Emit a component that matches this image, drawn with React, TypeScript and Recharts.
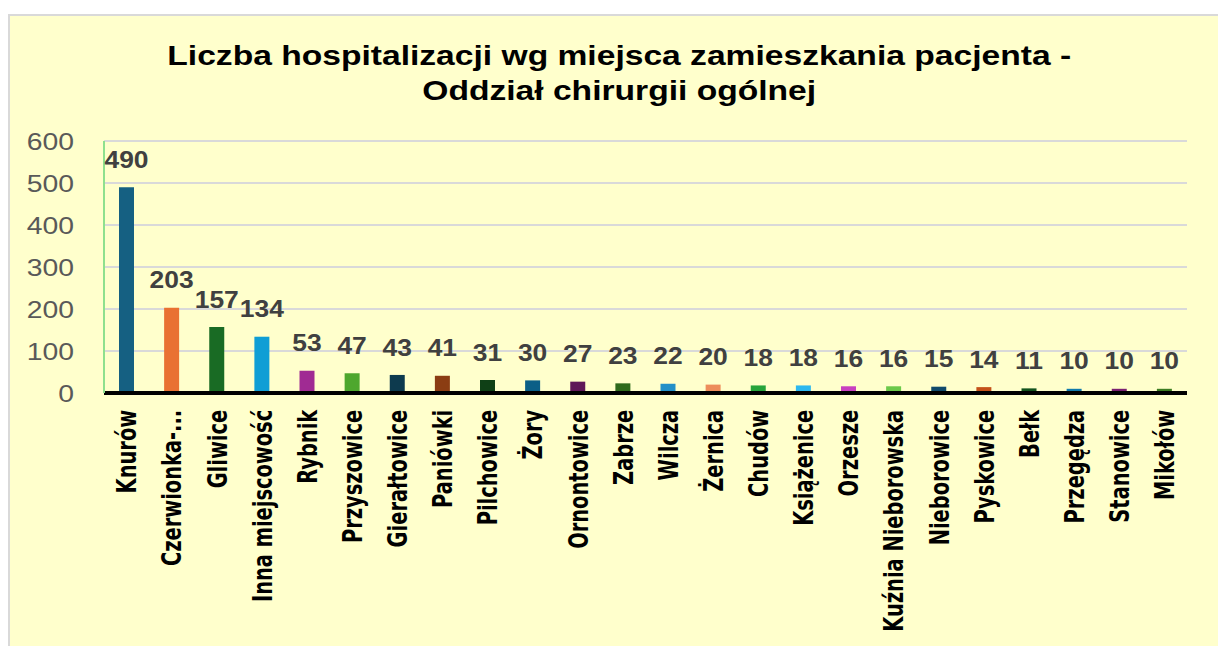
import { BarChart, Bar, XAxis, YAxis, CartesianGrid, LabelList, Cell } from "recharts";

const places = [
  "Knurów", "Czerwionka-...", "Gliwice", "Inna miejscowość", "Rybnik", "Przyszowice",
  "Gierałtowice", "Paniówki", "Pilchowice", "Żory", "Ornontowice", "Zabrze",
  "Wilcza", "Żernica", "Chudów", "Książenice", "Orzesze", "Kuźnia Nieborowska",
  "Nieborowice", "Pyskowice", "Bełk", "Przegędza", "Stanowice", "Mikołów",
];
const counts = [490, 203, 157, 134, 53, 47, 43, 41, 31, 30, 27, 23, 22, 20, 18, 18, 16, 16, 15, 14, 11, 10, 10, 10];
const barColors = [
  "#156082", "#E97132", "#196B24", "#0F9ED5", "#A02B93", "#4EA72E",
  "#0D3A4E", "#8B3D13", "#0F4016", "#0B5F87", "#5F1858", "#2F6A1C",
  "#2390C8", "#ED8D5B", "#27A43B", "#2DB8EF", "#C840C0", "#6CC94A",
  "#104A6B", "#C4521A", "#12531D", "#107AAC", "#7A2071", "#3C7D22",
];
const yTicks = [0, 100, 200, 300, 400, 500, 600];

const data = places.map((name, i) => ({ name, value: counts[i], color: barColors[i] }));

const SANS = "'Liberation Sans', Arial, sans-serif";

// condensed bold place names, rotated to read bottom-up
const PlaceTick = (props: any) => {
  const { x, y, payload } = props;
  return (
    <g transform={`translate(${x},${y}) rotate(-90) scale(0.8,1)`}>
      <text
        x={-11}
        y={0}
        dy="0.36em"
        textAnchor="end"
        fill="#000"
        style={{ fontFamily: "'DejaVu Sans Condensed', 'Liberation Sans', Arial, sans-serif", fontWeight: 700, fontSize: 27 }}
      >
        {payload.value}
      </text>
    </g>
  );
};

const CountTick = (props: any) => {
  const { x, y, payload } = props;
  return (
    <g transform={`translate(${x},${y}) scale(1.18,1)`}>
      <text x={0} y={0} dy="0.36em" textAnchor="end" fill="#595959" style={{ fontFamily: SANS, fontSize: 24 }}>
        {payload.value}
      </text>
    </g>
  );
};

const ValueLabel = (props: any) => {
  const { x, y, width, value } = props;
  return (
    <g transform={`translate(${x + width / 2},${y - 28}) scale(1.1,1)`}>
      <text x={0} y={0} dy="0.36em" textAnchor="middle" fill="#404040" style={{ fontFamily: SANS, fontWeight: 700, fontSize: 24 }}>
        {value}
      </text>
    </g>
  );
};

export default function App() {
  return (
    <div style={{ position: "absolute", left: 8, top: 14, width: 1218, height: 640, border: "2px solid #D9D9D9", background: "#FFFFCC", overflow: "hidden" }}>
      <div
        style={{
          position: "absolute", left: 0, top: 22, width: 1218, textAlign: "center",
          fontFamily: SANS, fontWeight: 700, fontSize: 28, lineHeight: "35px", color: "#000",
          transform: "scaleX(1.2)", transformOrigin: "608px 0",
        }}
      >
        Liczba hospitalizacji wg miejsca zamieszkania pacjenta -<br />Oddział chirurgii ogólnej
      </div>
      <BarChart
        width={1210}
        height={640}
        data={data}
        margin={{ top: 125, right: 33, left: 24, bottom: 0 }}
        barSize={15}
      >
        <CartesianGrid stroke="#D9D9D9" strokeWidth={2} vertical={false} />
        <XAxis
          dataKey="name"
          interval={0}
          tick={<PlaceTick />}
          tickLine={false}
          axisLine={{ stroke: "#000", strokeWidth: 4 }}
          height={263}
        />
        <YAxis
          domain={[0, 600]}
          ticks={yTicks}
          width={70}
          tickLine={false}
          tickSize={0}
          tickMargin={30}
          axisLine={{ stroke: "#8EE08E", strokeWidth: 2 }}
          tick={<CountTick />}
        />
        <Bar dataKey="value" isAnimationActive={false}>
          {data.map((d, i) => (
            <Cell key={i} fill={d.color} />
          ))}
          <LabelList dataKey="value" content={<ValueLabel />} />
        </Bar>
      </BarChart>
    </div>
  );
}
